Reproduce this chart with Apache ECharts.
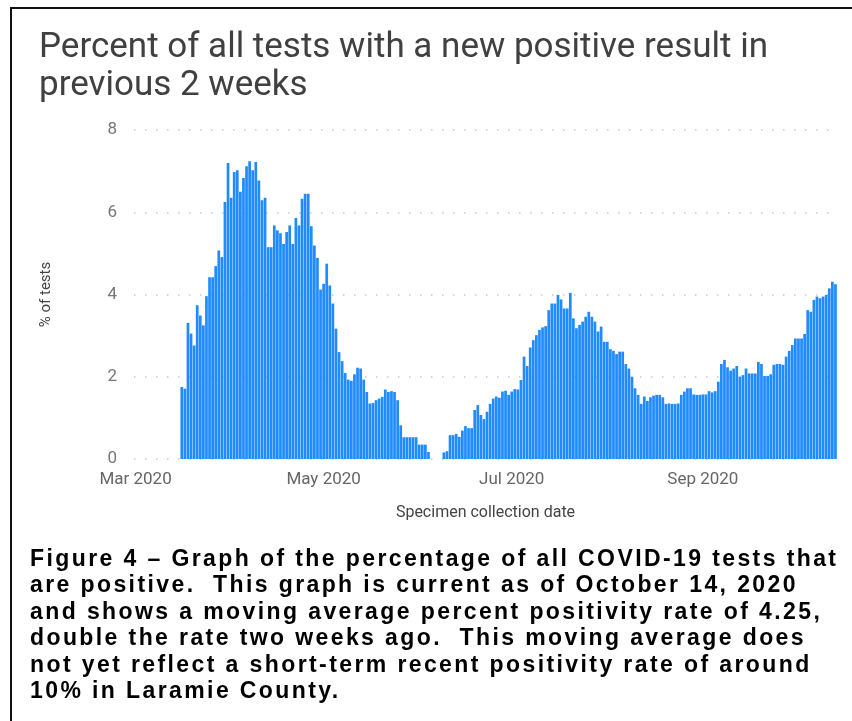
<!DOCTYPE html>
<html>
<head>
<meta charset="utf-8">
<script src="https://cdn.jsdelivr.net/npm/echarts@6/dist/echarts.min.js"></script>
<style>
  html, body { margin: 0; padding: 0; background: #fff; }
  #frame { position: relative; width: 852px; height: 721px; overflow: hidden; }
  #chart { position: absolute; left: 0; top: 0; width: 852px; height: 721px; }
  #border { position: absolute; left: 10px; top: 7px; right: -5px; bottom: -5px;
            border-left: 2px solid #111; border-top: 2px solid #111; }
  #caption { position: absolute; left: 30px; top: 545px; width: 840px; white-space: nowrap;
             font-family: "Liberation Sans", Arial, sans-serif; font-weight: bold;
             font-size: 23px; line-height: 26.4px; letter-spacing: 2.4px; color: #000; }
</style>
</head>
<body>
<div id="frame">
  <div id="chart"></div>
  <div id="border"></div>
  <div id="caption">Figure 4 – Graph of the percentage of all COVID-19 tests that<br>are positive.&nbsp; This graph is current as of October 14, 2020<br>and shows a moving average percent positivity rate of 4.25,<br>double the rate two weeks ago.&nbsp; This moving average does<br>not yet reflect a short-term recent positivity rate of around<br>10% in Laramie County.</div>
</div>
<script>
// axis range (daily categories)
var axisStart = '2020-03-01';
var axisEnd = '2020-10-14';
var tickMonths = [3, 5, 7, 9];
var monthNames = ['Jan','Feb','Mar','Apr','May','Jun','Jul','Aug','Sep','Oct','Nov','Dec'];

// first run of values, starting 2020-03-16
var springStart = '2020-03-16';
var springValues = [
  1.75, 1.71, 3.31, 3.05, 2.76, 3.74, 3.49, 3.25, 3.96, 4.42,
  4.42, 4.69, 5.07, 4.91, 6.25, 7.20, 6.35, 6.98, 7.02, 6.50,
  6.83, 7.12, 7.24, 7.02, 7.22, 6.77, 6.29, 6.35, 5.15, 5.15,
  5.68, 5.56, 5.49, 5.23, 5.52, 5.68, 5.23, 5.86, 5.68, 6.33,
  6.45, 6.45, 5.66, 5.19, 4.89, 4.12, 4.26, 4.75, 4.22, 3.78,
  3.17, 2.60, 2.38, 2.09, 1.93, 1.90, 2.06, 2.22, 2.20, 1.93,
  1.63, 1.35, 1.36, 1.43, 1.47, 1.51, 1.69, 1.63, 1.65, 1.63,
  1.43, 0.82, 0.53, 0.53, 0.53, 0.53, 0.53, 0.35, 0.35, 0.35,
  0.17
];

// second run of values, starting 2020-06-09
var summerStart = '2020-06-09';
var summerValues = [
  0.16, 0.19, 0.58, 0.58, 0.61, 0.54, 0.69, 0.80, 0.75, 0.75,
  1.19, 1.31, 1.07, 0.97, 1.15, 1.34, 1.47, 1.52, 1.49, 1.64,
  1.66, 1.56, 1.64, 1.70, 1.69, 1.92, 2.49, 2.26, 2.71, 2.89,
  3.01, 3.14, 3.20, 3.23, 3.62, 3.78, 3.78, 3.99, 3.88, 3.66,
  3.66, 4.04, 3.42, 3.18,
  3.26, 3.34, 3.46, 3.58, 3.46, 3.34, 3.10, 3.22, 2.85, 2.85,
  2.67, 2.63, 2.55, 2.61, 2.61, 2.31, 2.20, 2.00, 1.72, 1.56,
  1.34, 1.52, 1.41, 1.50, 1.54, 1.56, 1.56, 1.50, 1.34, 1.35,
  1.34, 1.34, 1.35, 1.56, 1.64, 1.72, 1.72, 1.57, 1.56, 1.56,
  1.57, 1.57, 1.65, 1.62, 1.65, 1.88,
  2.31, 2.41, 2.23, 2.15, 2.20, 2.26, 2.00, 2.04, 2.20, 2.08,
  2.08, 2.08, 2.36, 2.31, 2.02, 2.02, 2.06, 2.29, 2.31, 2.31,
  2.29, 2.49, 2.63, 2.77, 2.93, 2.93, 2.93, 3.04, 3.62, 3.58,
  3.87, 3.95, 3.91, 3.95, 3.99, 4.15, 4.31, 4.25
];

var yTicks = { min: 0, max: 8, step: 2 };

function dayKey(d) {
  var m = d.getUTCMonth() + 1, day = d.getUTCDate();
  return d.getUTCFullYear() + '-' + (m < 10 ? '0' : '') + m + '-' + (day < 10 ? '0' : '') + day;
}

// build daily category list
var dates = [];
for (var d = new Date(axisStart + 'T00:00:00Z'); d <= new Date(axisEnd + 'T00:00:00Z'); d.setUTCDate(d.getUTCDate() + 1)) {
  dates.push(dayKey(d));
}

var values = dates.map(function () { return null; });
function place(start, arr) {
  var i0 = dates.indexOf(start);
  for (var i = 0; i < arr.length; i++) values[i0 + i] = arr[i];
}
place(springStart, springValues);
place(summerStart, summerValues);

function isTick(v) {
  var p = v.split('-');
  return p[2] === '01' && tickMonths.indexOf(+p[1]) >= 0;
}

var chart = echarts.init(document.getElementById('chart'));
chart.setOption({
  animation: false,
  title: {
    text: 'Percent of all tests with a new positive result in\nprevious 2 weeks',
    left: 34, top: 24,
    textStyle: { fontFamily: 'Roboto', fontSize: 35, fontWeight: 'normal', color: '#404040', lineHeight: 38 }
  },
  grid: { left: 134, right: 15, top: 130, bottom: 262 },
  xAxis: {
    type: 'category',
    data: dates,
    name: 'Specimen collection date',
    nameLocation: 'middle',
    nameGap: 46,
    nameTextStyle: { fontFamily: 'Roboto', fontSize: 16, color: '#444' },
    axisLine: { show: false },
    axisTick: { show: false },
    axisLabel: {
      interval: function (i, v) { return isTick(v); },
      formatter: function (v) { var p = v.split('-'); return monthNames[+p[1] - 1] + ' ' + p[0]; },
      fontFamily: 'Roboto', fontSize: 17, color: '#666', margin: 12
    }
  },
  yAxis: {
    type: 'value',
    min: yTicks.min, max: yTicks.max, interval: yTicks.step,
    name: '% of tests',
    nameLocation: 'middle',
    nameGap: 80,
    nameTextStyle: { fontFamily: 'Roboto', fontSize: 15, color: '#444' },
    axisLine: { show: false },
    axisTick: { show: false },
    axisLabel: { fontFamily: 'Roboto', fontSize: 17, color: '#777', margin: 17 },
    splitLine: { lineStyle: { color: '#c8c8c8', width: 1.5, type: [1.5, 9.5] } }
  },
  series: [{
    type: 'bar',
    data: values,
    barCategoryGap: '12%',
    itemStyle: { color: '#1f8bff' }
  }]
});
</script>
</body>
</html>
